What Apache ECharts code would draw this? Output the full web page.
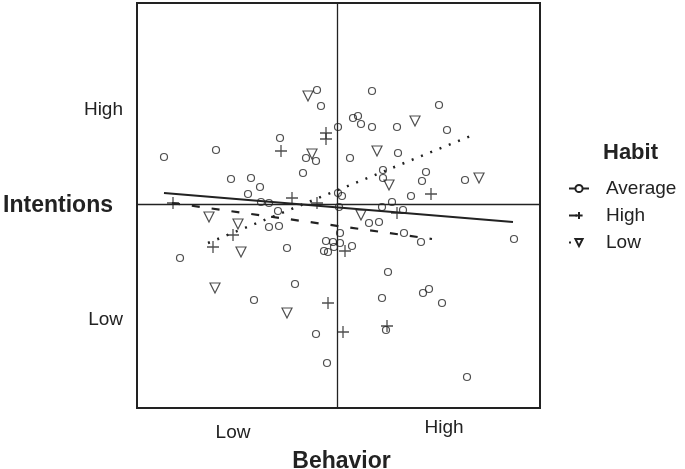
<!DOCTYPE html>
<html>
<head>
<meta charset="utf-8">
<script src="https://cdn.jsdelivr.net/npm/echarts@6/dist/echarts.min.js"></script>
<style>html,body{margin:0;padding:0;background:#fff}#c{width:685px;height:469px}</style>
</head>
<body>
<div id="c"></div>
<script>
// Centered scores (behavior on x, intentions on y)
const averagePts = [[-173,47],[-121,54],[-106,25],[-86,26],[-77,17],[-89,10],[-57,66],[-20,114],[-16,98],[1,77],[-34,31],[-31,46],[-21,43],[1,11],[5,8],[-76,2],[-68,1],[-59,-7],[-68,-23],[-58,-22],[-50,-44],[-157,-54],[-42,-80],[-83,-96],[-21,-130],[-10,-159],[-11,-37],[-4,-38],[3,-39],[-13,-47],[-9,-48],[-3,-43],[3,-29],[15,-42],[2,-3],[55,2],[45,-3],[66,-6],[32,-19],[42,-18],[67,-29],[84,-38],[177,-35],[51,-68],[45,-94],[86,-89],[92,-85],[105,-99],[49,-126],[130,-173],[35,113],[102,99],[16,86],[21,88],[24,80],[35,77],[60,77],[110,74],[13,46],[61,51],[46,34],[46,26],[89,32],[85,23],[128,24],[74,8]];
const highPts = [[-11,71],[-11,65],[-56,53],[-45,6],[-164,1],[-124,-43],[-104,-31],[-9,-99],[6,-128],[8,-47],[50,-122],[60,-9],[94,10],[-20,1]];
const lowPts = [[-29,108],[-25,50],[78,83],[40,53],[52,19],[142,26],[-128,-13],[-99,-20],[-96,-48],[-122,-84],[-50,-109],[24,-11]];
const averageFit = [[-173,11],[176,-18]];
const highFit = [[-165,1],[95,-35]];
const lowFit = [[-129,-39],[136,69]];
const xTickValues = [-104, 107];
const xTickLabels = ['Low', 'High'];
const yTickValues = [94, -116];
const yTickLabels = ['High', 'Low'];
const groups = ['Average', 'High', 'Low'];

const FONT = 'Liberation Sans, Arial, sans-serif';
const INK = '#222';
const plusPath = 'path://M0,6 L12,6 M6,0 L6,12';

const chart = echarts.init(document.getElementById('c'), null, {renderer: 'canvas'});
chart.setOption({
  animation: false,
  backgroundColor: '#fff',
  title: [{
    text: 'Habit', left: 598, top: 137,
    textStyle: {fontFamily: FONT, fontSize: 22, fontWeight: 'bold', color: INK}
  }],
  legend: {
    orient: 'vertical', left: 568, top: 179, padding: 0,
    itemWidth: 20, itemHeight: 9, itemGap: 8,
    data: groups,
    textStyle: {fontFamily: FONT, fontSize: 19, color: INK, padding: [0, 0, 0, 12]}
  },
  grid: {left: 137, right: 145, top: 3, bottom: 61, show: true, borderColor: INK, borderWidth: 2,
         backgroundColor: 'transparent', containLabel: false, outerBoundsMode: 'none'},
  xAxis: {
    type: 'value', min: -200, max: 203,
    name: 'Behavior', nameLocation: 'middle', nameGap: 42,
    nameTextStyle: {fontFamily: FONT, fontSize: 23, fontWeight: 'bold', color: INK, padding: [0, 0, 0, 6]},
    axisLine: {show: false}, axisTick: {show: false}, splitLine: {show: false},
    axisLabel: {
      customValues: xTickValues, margin: 10,
      formatter: v => { const i = xTickValues.indexOf(v); return i === 0 ? '{lo|' + xTickLabels[i] + '}' : '{hi|' + xTickLabels[i] + '}'; },
      rich: {
        lo: {fontFamily: FONT, fontSize: 19, color: INK, padding: [5, 0, 0, 0]},
        hi: {fontFamily: FONT, fontSize: 19, color: INK}
      }
    }
  },
  yAxis: {
    type: 'value', min: -204, max: 201,
    name: 'Intentions', nameLocation: 'middle', nameRotate: 0, nameGap: 24, nameMoveOverlap: false,
    nameTextStyle: {fontFamily: FONT, fontSize: 23, fontWeight: 'bold', color: INK, align: 'right', verticalAlign: 'middle'},
    axisLine: {show: false}, axisTick: {show: false}, splitLine: {show: false},
    axisLabel: {
      customValues: yTickValues, margin: 14,
      fontFamily: FONT, fontSize: 19, color: INK,
      formatter: v => yTickLabels[yTickValues.indexOf(v)]
    }
  },
  series: [
    {name: 'Average', type: 'line', data: averageFit, showSymbol: false, symbol: 'circle', symbolSize: 6,
     itemStyle: {color: '#fff', borderColor: INK, borderWidth: 1},
     lineStyle: {color: INK, width: 2.2, type: 'solid'}, z: 4, silent: true},
    {name: 'High', type: 'line', data: highFit, showSymbol: false, symbol: plusPath, symbolSize: 9,
     itemStyle: {color: 'none', borderColor: INK, borderWidth: 1.2},
     lineStyle: {color: INK, width: 2.2, type: [8, 12]}, z: 4, silent: true},
    {name: 'Low', type: 'line', data: lowFit, showSymbol: false, symbol: 'triangle', symbolRotate: 180, symbolSize: 8,
     itemStyle: {color: '#fff', borderColor: INK, borderWidth: 1},
     lineStyle: {color: INK, width: 2.5, type: [2, 8]}, z: 4, silent: true},
    {name: 'Average', type: 'scatter', data: averagePts, symbol: 'circle', symbolSize: 7,
     itemStyle: {color: 'transparent', borderColor: INK, borderWidth: 1.2}, z: 3,
     markLine: {silent: true, symbol: ['none', 'none'], label: {show: false},
       lineStyle: {color: INK, width: 1.3, type: 'solid'},
       data: [{xAxis: 0}, {yAxis: 0}]}},
    {name: 'High', type: 'scatter', data: highPts, symbol: plusPath, symbolSize: 12,
     itemStyle: {color: 'none', borderColor: INK, borderWidth: 1.3}, z: 3},
    {name: 'Low', type: 'scatter', data: lowPts, symbol: 'triangle', symbolRotate: 180, symbolSize: 10,
     itemStyle: {color: 'transparent', borderColor: INK, borderWidth: 1.2}, z: 3}
  ]
});
</script>
</body>
</html>
